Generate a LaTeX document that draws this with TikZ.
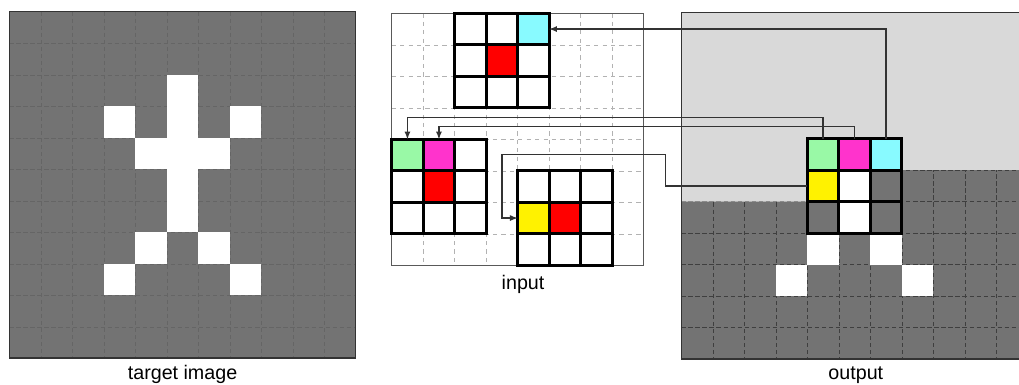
\documentclass[tikz,border=0pt]{standalone}
\usepackage{fontspec}
\setmainfont{Liberation Sans}
\usetikzlibrary{calc}

\definecolor{pixdark}{HTML}{737373}
\definecolor{pixlight}{HTML}{D9D9D9}
\definecolor{pixgreen}{HTML}{99F9A6}
\definecolor{pixpink}{HTML}{FF33CC}
\definecolor{pixcyan}{HTML}{88FAFF}
\definecolor{wiregray}{HTML}{333333}

\begin{document}
\begin{tikzpicture}[x=0.7875cm, y=-0.7875cm,
    cell/.style={draw=black, line width=2.1pt, fill=white, minimum size=0.7875cm, inner sep=0pt, outer sep=0pt},
    wire/.style={wiregray, line width=0.9pt, -latex},
    paneltitle/.style={font=\fontsize{14}{16}\selectfont, anchor=base}]
\path[use as bounding box, clip] (0,0) rectangle (32.35,12.22);

% target image, 11 x 11 pixels
\begin{scope}[shift={(0.295,0.371)}]
  \fill[pixdark] (0,0) rectangle (11,11);
  \foreach \k in {1,...,10} {
    \draw[black!12!pixdark, very thin, densely dashed] (\k,0) -- (\k,11);
    \draw[black!12!pixdark, very thin, densely dashed] (0,\k) -- (11,\k);
  }
  \foreach \i/\j in {5/2, 3/3, 5/3, 7/3, 4/4, 5/4, 6/4, 5/5, 5/6, 4/7, 6/7, 3/8, 7/8}
    \fill[white] (\i,\j) rectangle ++(1,1);
  \draw[black!80, line width=1pt] (0,0) rectangle (11,11);
  \node[paneltitle] (tgt-title) at (5.5,11.69) {target image};
\end{scope}

% input, 8 x 8 pixels, with three 3 x 3 neighbourhoods
\begin{scope}[shift={(12.435,0.422)}]
  \foreach \k in {1,...,7} {
    \draw[black!30, thin, dashed] (\k,0) -- (\k,8);
    \draw[black!30, thin, dashed] (0,\k) -- (8,\k);
  }
  \draw[black!65, line width=0.8pt] (0,0) rectangle (8,8);
  \foreach \i/\j/\c/\nm in {0/0/white/top-a, 1/0/white/top-b, 2/0/pixcyan/in-cyan,
      0/1/white/top-d, 1/1/red/top-ctr, 2/1/white/top-f,
      0/2/white/top-g, 1/2/white/top-h, 2/2/white/top-i}
    \node[cell, fill=\c] (\nm) at (2.5+\i,0.5+\j) {};
  \foreach \i/\j/\c/\nm in {0/0/pixgreen/in-green, 1/0/pixpink/in-pink, 2/0/white/left-c,
      0/1/white/left-d, 1/1/red/left-ctr, 2/1/white/left-f,
      0/2/white/left-g, 1/2/white/left-h, 2/2/white/left-i}
    \node[cell, fill=\c] (\nm) at (0.5+\i,4.5+\j) {};
  \foreach \i/\j/\c/\nm in {0/0/white/low-a, 1/0/white/low-b, 2/0/white/low-c,
      0/1/yellow/in-yellow, 1/1/red/low-ctr, 2/1/white/low-f,
      0/2/white/low-g, 1/2/white/low-h, 2/2/white/low-i}
    \node[cell, fill=\c] (\nm) at (4.5+\i,5.5+\j) {};
  \coordinate (yel-drop) at (3.5,4.5);
  \node[paneltitle] (in-title) at (4.17,8.78) {input};
\end{scope}

% output, filled in so far up to the current pixel
\begin{scope}[shift={(21.63,0.403)}]
  \fill[pixlight] (0,0) rectangle (11,11);
  \begin{scope}
    \clip (0,6) -- (6,6) -- (6,5) -- (11,5) -- (11,11) -- (0,11) -- cycle;
    \fill[pixdark] (0,0) rectangle (11,11);
    \foreach \k in {1,...,10} {
      \draw[black!45!pixdark, thin, densely dashed] (\k,0) -- (\k,11);
      \draw[black!45!pixdark, thin, densely dashed] (0,\k) -- (11,\k);
    }
  \end{scope}
  \foreach \i/\j in {4/7, 6/7, 3/8, 7/8}
    \fill[white] (\i,\j) rectangle ++(1,1);
  \draw[black!80, line width=1pt] (0,0) rectangle (11,11);
  \foreach \i/\j/\c/\nm in {0/0/pixgreen/out-green, 1/0/pixpink/out-pink, 2/0/pixcyan/out-cyan,
      0/1/yellow/out-yellow, 1/1/white/out-ctr, 2/1/pixdark/out-e,
      0/2/pixdark/out-sw, 1/2/white/out-s, 2/2/pixdark/out-se}
    \node[cell, fill=\c] (\nm) at (4.5+\i,4.5+\j) {};
  \coordinate (yel-turn) at (-0.5,4.5);
  \node[paneltitle] (out-title) at (5.54,11.66) {output};
\end{scope}

% where each known neighbour is looked up in the input
\draw[wire] (out-cyan.north) |- (in-cyan.east);
\draw[wire] (out-green.north) -- ++(0,-0.68) -| (in-green.north);
\draw[wire] (out-pink.north) -- ++(0,-0.38) -| (in-pink.north);
\draw[wire] (out-yellow.west) -| (yel-turn) -| (yel-drop) |- (in-yellow.west);
\end{tikzpicture}
\end{document}
